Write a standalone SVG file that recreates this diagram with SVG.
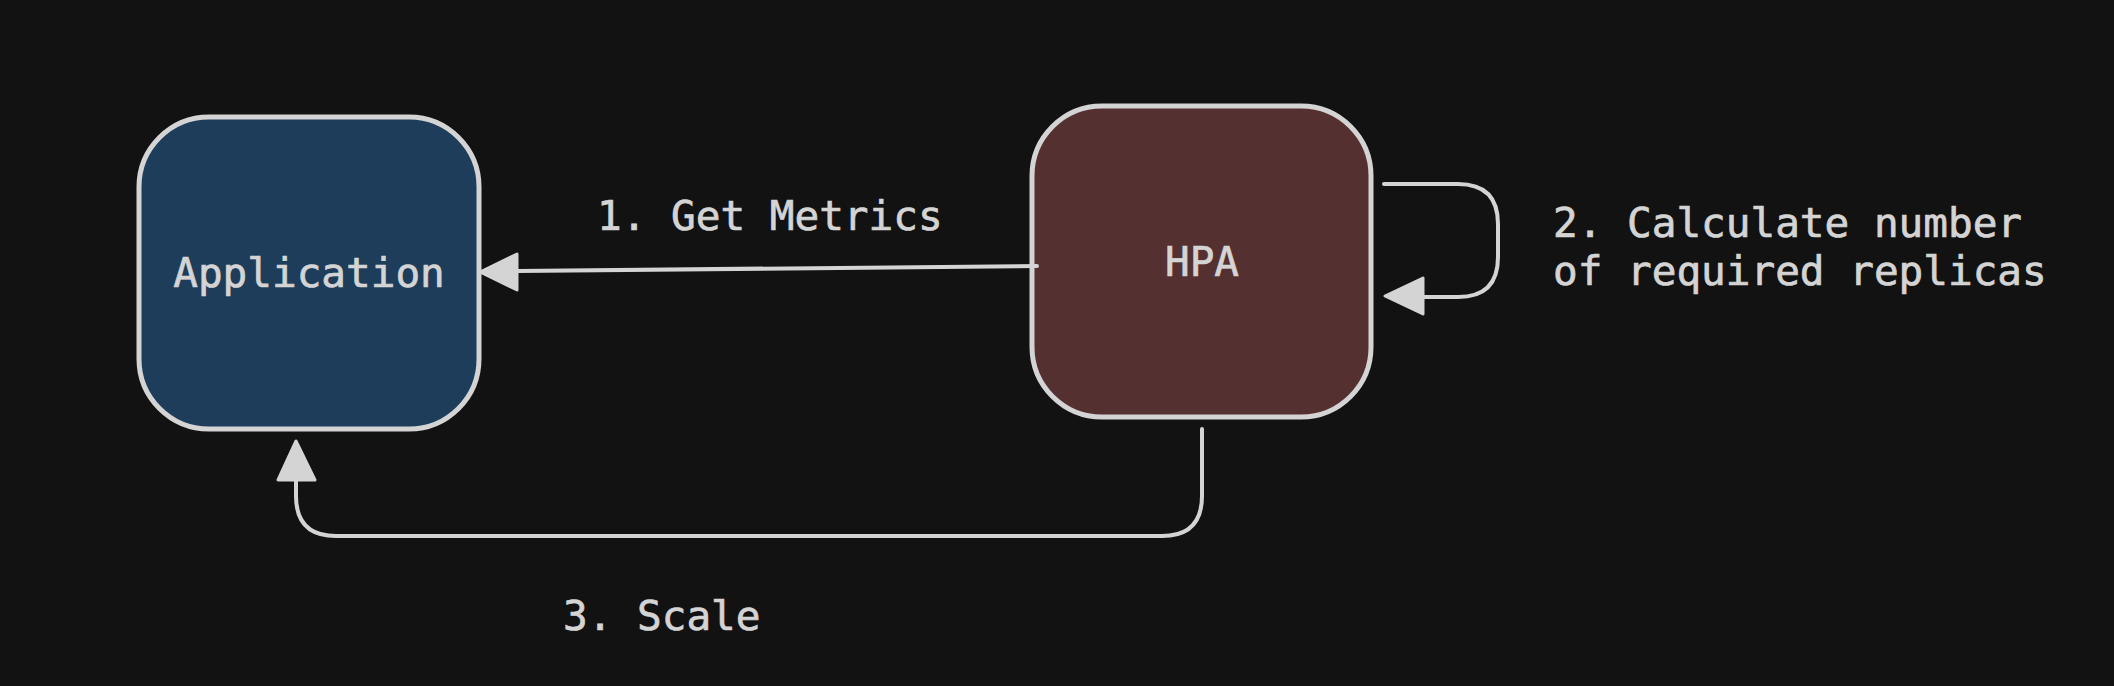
<svg xmlns="http://www.w3.org/2000/svg" width="2114" height="686" viewBox="0 0 2114 686">
<style>
.box{stroke:#d4d4d4;stroke-width:5}
.lbl{font-family:"DejaVu Sans Mono","Liberation Mono",monospace;font-size:41px;fill:#d4d4d4;stroke:#d4d4d4;stroke-width:0.7}
.edge{fill:none;stroke:#d4d4d4;stroke-width:4;stroke-linecap:round}
.head{fill:#d4d4d4;stroke:#d4d4d4;stroke-width:3;stroke-linejoin:round}
</style>
<rect width="2114" height="686" fill="#121212"/>
<g id="node-application">
<rect class="box" x="139" y="117" width="340" height="312" rx="70" ry="70" fill="#1d3d5b"/>
<text class="lbl" x="309" y="287" text-anchor="middle">Application</text>
</g>
<g id="node-hpa">
<rect class="box" x="1032" y="106" width="339" height="311" rx="70" ry="70" fill="#553031"/>
<text class="lbl" x="1202" y="276" text-anchor="middle">HPA</text>
</g>
<g id="connectors">
<path class="edge" d="M1037,266 L517,271"/>
<path class="head" d="M480,272 L517,254 L517,290 Z"/>
<path class="edge" d="M1384,184 H1458 Q1498,184 1498,224 V257 Q1498,297 1458,297 H1423"/>
<path class="head" d="M1385,296 L1423,278 L1423,314 Z"/>
<path class="edge" d="M1202,429 V496 Q1202,536 1162,536 H336 Q296,536 296,496 V481"/>
<path class="head" d="M296,441 L278,480 L315,480 Z"/>
</g>
<g id="labels">
<text class="lbl" x="597" y="230">1. Get Metrics</text>
<text class="lbl" x="1553" y="237">2. Calculate number</text>
<text class="lbl" x="1553" y="285">of required replicas</text>
<text class="lbl" x="563" y="630">3. Scale</text>
</g>
</svg>
